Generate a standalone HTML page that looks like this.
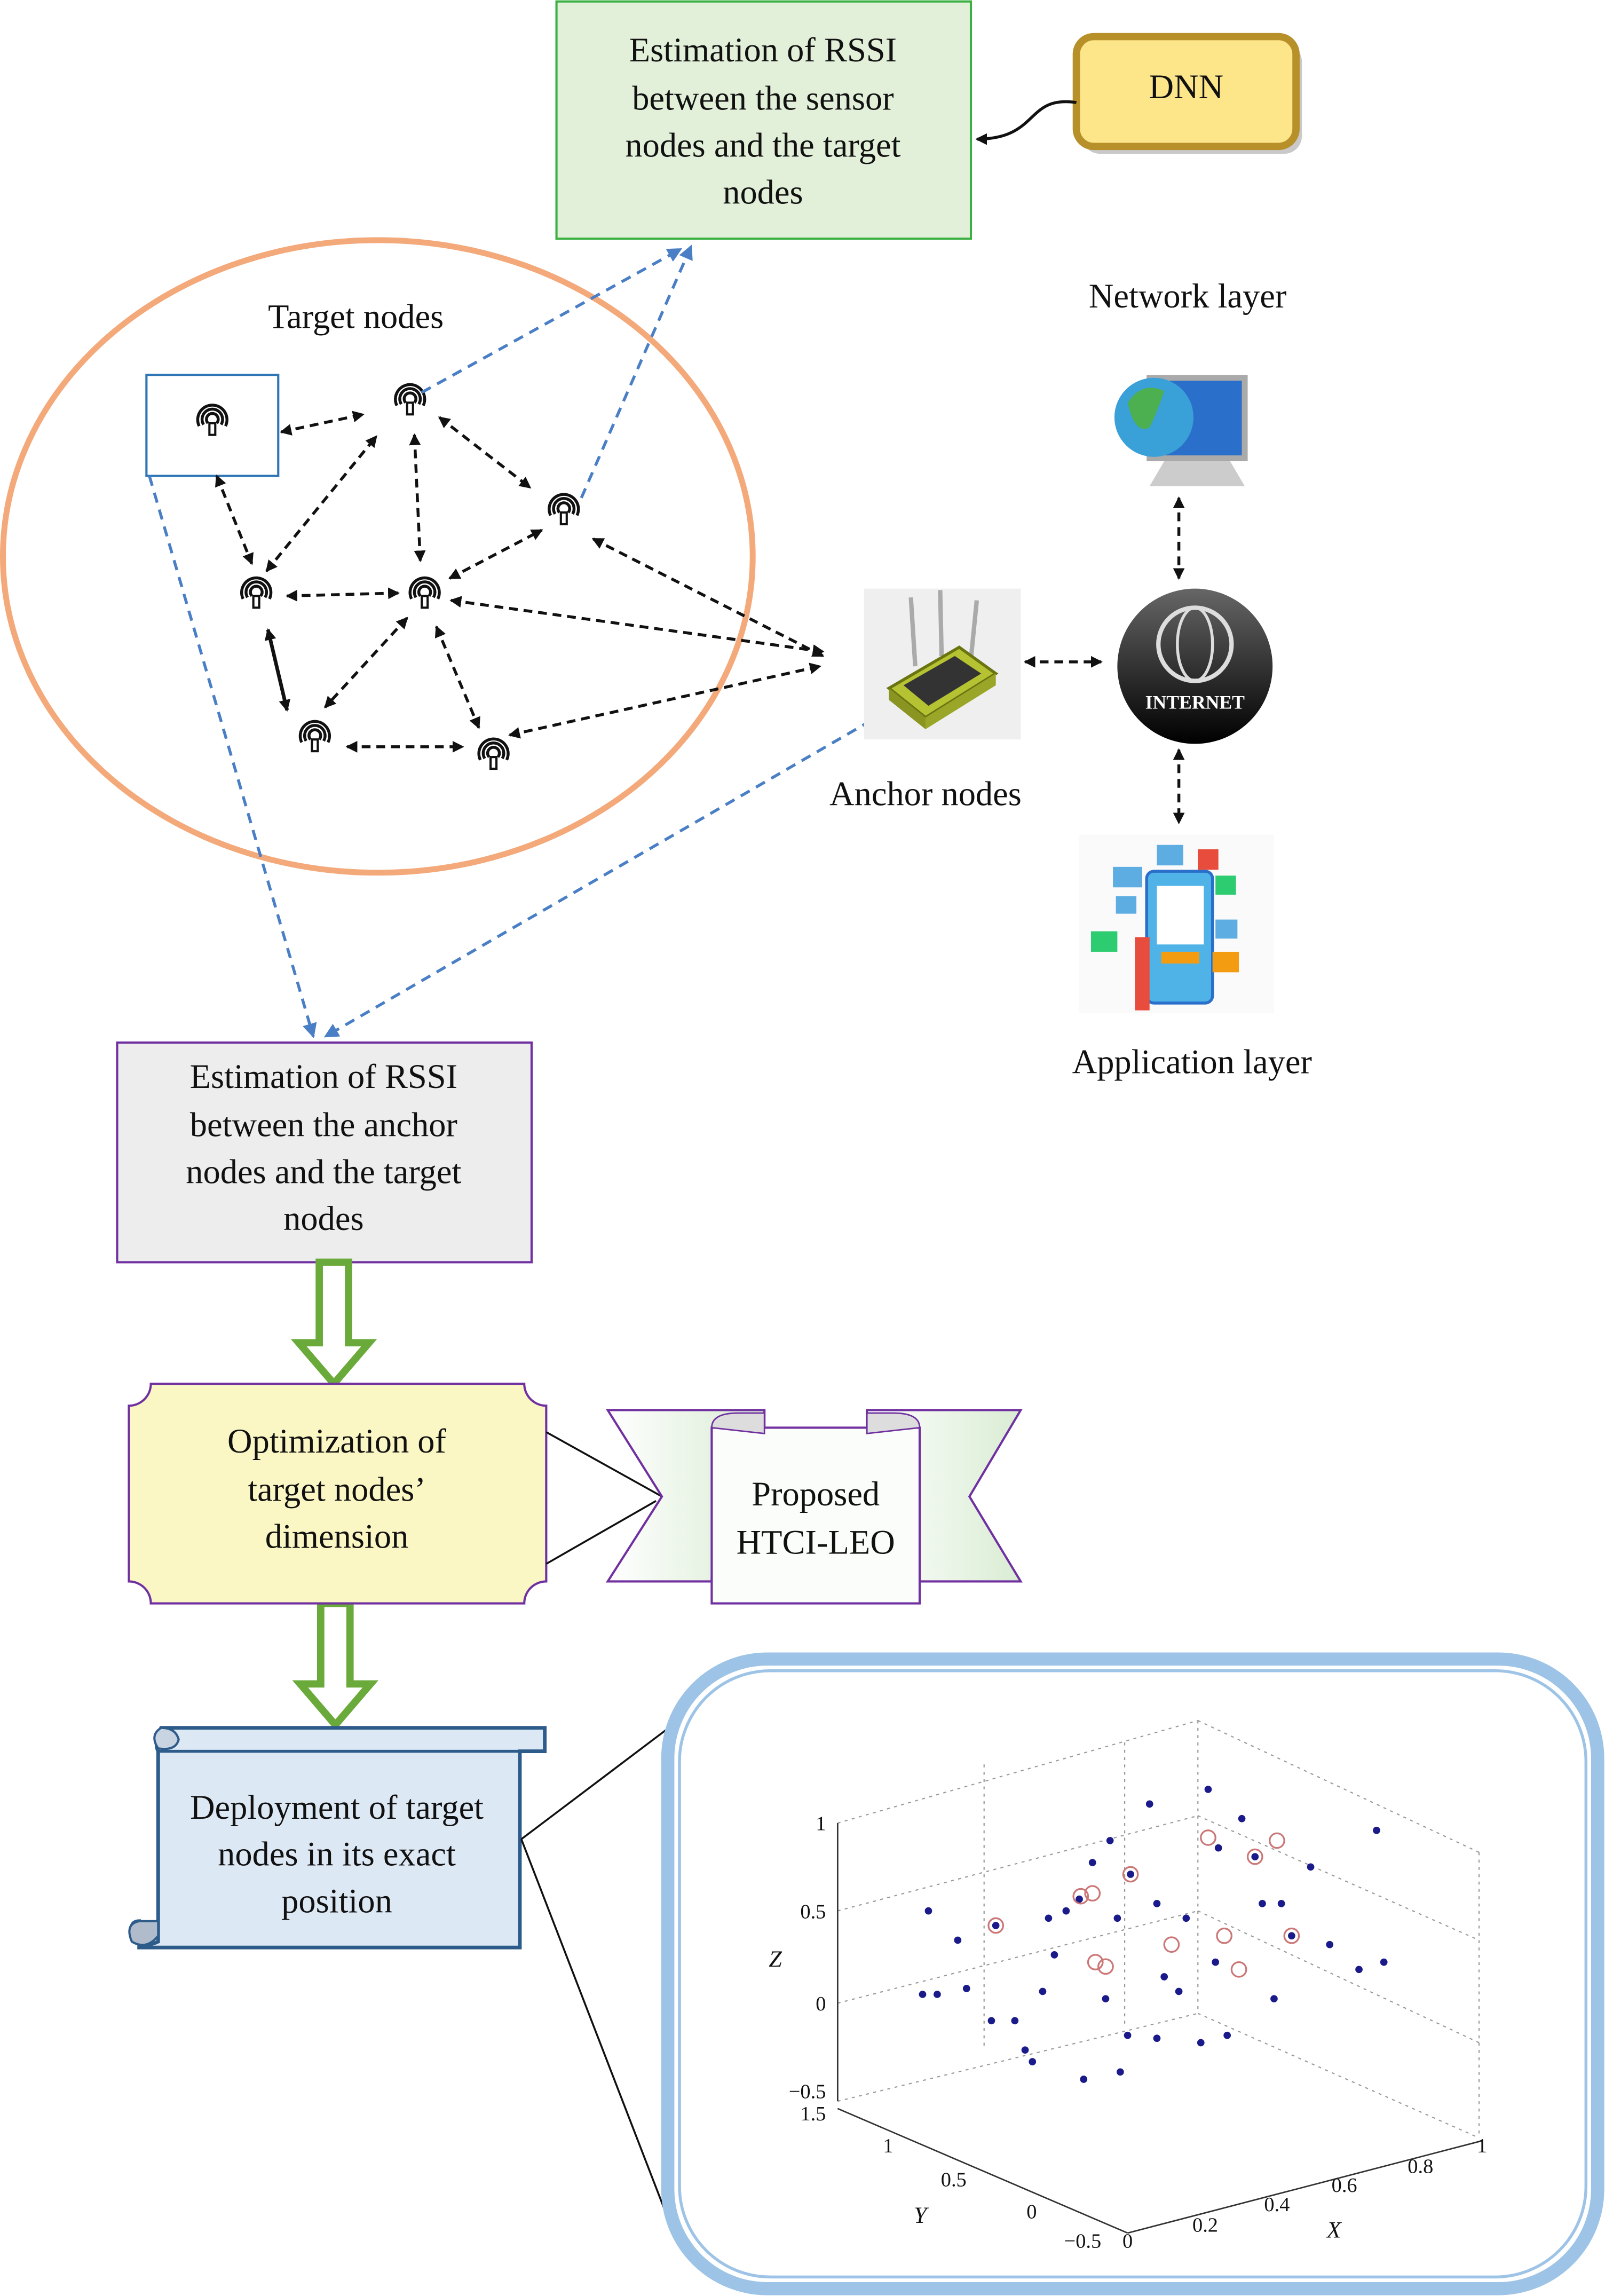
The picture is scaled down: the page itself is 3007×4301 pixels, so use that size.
<!DOCTYPE html>
<html><head><meta charset="utf-8">
<style>
html,body{margin:0;padding:0;background:#fff;}
svg{display:block;}
text{font-family:"Liberation Serif",serif;fill:#111;}
</style></head>
<body>
<svg width="3007" height="4301" viewBox="0 0 1096 1568" preserveAspectRatio="none" xmlns="http://www.w3.org/2000/svg">
<defs>
<marker id="ab" markerWidth="8" markerHeight="8" refX="7" refY="4" orient="auto-start-reverse" markerUnits="userSpaceOnUse"><path d="M0,0 L8,4 L0,8 z" fill="#111"/></marker>
<marker id="abl" markerWidth="10" markerHeight="10" refX="9" refY="5" orient="auto" markerUnits="userSpaceOnUse"><path d="M0,0 L10,5 L0,10 z" fill="#4a7fc6"/></marker>
<g id="node">
<path d="M-9,4 A10,10 0 1 1 9,4" fill="none" stroke="#111" stroke-width="2"/>
<path d="M-6,3 A7,7 0 1 1 6,3" fill="none" stroke="#111" stroke-width="2"/>
<path d="M-3,2 A4,4 0 1 1 3,2" fill="none" stroke="#111" stroke-width="2"/>
<rect x="-2" y="2" width="4" height="8" fill="#fff" stroke="#111" stroke-width="1.5"/>
</g>
<linearGradient id="sph" x1="0" y1="0" x2="0" y2="1"><stop offset="0" stop-color="#666"/><stop offset="1" stop-color="#000"/></linearGradient>
<linearGradient id="ban" x1="0" y1="0" x2="1" y2="0"><stop offset="0" stop-color="#fff"/><stop offset="1" stop-color="#d9ecd3"/></linearGradient>
</defs>

<rect x="380" y="1" width="283" height="162" fill="#e2f0d9" stroke="#3cb043" stroke-width="1.5"/>
<g font-size="23.5" text-anchor="middle">
<text x="521" y="42">Estimation of RSSI</text>
<text x="521" y="75">between the sensor</text>
<text x="521" y="107">nodes and the target</text>
<text x="521" y="139">nodes</text>
</g>
<rect x="739" y="30" width="150" height="75" rx="12" fill="#c9c9c9"/>
<rect x="735" y="25" width="150" height="75" rx="12" fill="#fde58a" stroke="#b8902a" stroke-width="5"/>
<text x="810" y="67" font-size="23.5" text-anchor="middle">DNN</text>
<path d="M735,70 C700,65 710,95 667,95" fill="none" stroke="#111" stroke-width="2" marker-end="url(#ab)"/>

<text x="811" y="210" font-size="23.5" text-anchor="middle">Network layer</text>

<ellipse cx="258" cy="380" rx="256" ry="216" fill="none" stroke="#f4a97a" stroke-width="4"/>
<text x="243" y="224" font-size="23.5" text-anchor="middle">Target nodes</text>
<rect x="100" y="256" width="90" height="69" fill="#fff" stroke="#2e75b6" stroke-width="1.5"/>

<use href="#node" x="145" y="287"/>
<use href="#node" x="280" y="273"/>
<use href="#node" x="385" y="348"/>
<use href="#node" x="175" y="405"/>
<use href="#node" x="290" y="405"/>
<use href="#node" x="215" y="503"/>
<use href="#node" x="337" y="515"/>

<g stroke="#111" stroke-width="2" stroke-dasharray="6,4" fill="none">
<line x1="192" y1="295" x2="248" y2="283" marker-start="url(#ab)" marker-end="url(#ab)"/>
<line x1="148" y1="325" x2="172" y2="385" marker-start="url(#ab)" marker-end="url(#ab)"/>
<line x1="182" y1="390" x2="257" y2="298" marker-start="url(#ab)" marker-end="url(#ab)"/>
<line x1="300" y1="285" x2="362" y2="333" marker-start="url(#ab)" marker-end="url(#ab)"/>
<line x1="283" y1="297" x2="287" y2="383" marker-start="url(#ab)" marker-end="url(#ab)"/>
<line x1="196" y1="407" x2="272" y2="405" marker-start="url(#ab)" marker-end="url(#ab)"/>
<line x1="307" y1="395" x2="370" y2="362" marker-start="url(#ab)" marker-end="url(#ab)"/>
<line x1="278" y1="422" x2="222" y2="483" marker-start="url(#ab)" marker-end="url(#ab)"/>
<line x1="298" y1="428" x2="327" y2="497" marker-start="url(#ab)" marker-end="url(#ab)"/>
<line x1="237" y1="510" x2="316" y2="510" marker-start="url(#ab)" marker-end="url(#ab)"/>
<line x1="308" y1="410" x2="562" y2="445" marker-start="url(#ab)" marker-end="url(#ab)"/>
<line x1="405" y1="368" x2="562" y2="448" marker-start="url(#ab)" marker-end="url(#ab)"/>
<line x1="348" y1="502" x2="560" y2="455" marker-start="url(#ab)" marker-end="url(#ab)"/>
<line x1="700" y1="452" x2="752" y2="452" marker-start="url(#ab)" marker-end="url(#ab)"/>
<line x1="805" y1="340" x2="805" y2="395" marker-start="url(#ab)" marker-end="url(#ab)"/>
<line x1="805" y1="512" x2="805" y2="562" marker-start="url(#ab)" marker-end="url(#ab)"/>
</g>
<line x1="183" y1="430" x2="196" y2="485" stroke="#111" stroke-width="2.5" marker-start="url(#ab)" marker-end="url(#ab)"/>

<g stroke="#4a7fc6" stroke-width="2" stroke-dasharray="7,5" fill="none">
<line x1="288" y1="268" x2="465" y2="170" marker-end="url(#abl)"/>
<line x1="397" y1="340" x2="472" y2="168" marker-end="url(#abl)"/>
<line x1="102" y1="325" x2="214" y2="708" marker-end="url(#abl)"/>
<line x1="595" y1="492" x2="222" y2="708" marker-end="url(#abl)"/>
</g>

<rect x="590" y="402" width="107" height="103" fill="#efefef"/>
<line x1="622" y1="408" x2="625" y2="455" stroke="#aaa" stroke-width="3"/>
<line x1="642" y1="403" x2="643" y2="448" stroke="#aaa" stroke-width="3"/>
<line x1="667" y1="410" x2="663" y2="450" stroke="#aaa" stroke-width="3"/>
<polygon points="607,470 655,442 680,460 632,490" fill="#b5c232" stroke="#6a7410" stroke-width="2"/>
<polygon points="617,468 652,448 670,460 634,482" fill="#333"/>
<polygon points="607,470 632,490 632,498 607,478" fill="#8a9420"/>
<polygon points="632,490 680,460 680,468 632,498" fill="#9aa628"/>
<text x="632" y="550" font-size="23.5" text-anchor="middle">Anchor nodes</text>

<rect x="785" y="258" width="65" height="55" fill="#2a6fc9" stroke="#aaa" stroke-width="4"/>
<circle cx="788" cy="285" r="27" fill="#3aa0d8"/>
<path d="M770,275 q10,-15 25,-8 q-5,15 -10,25 q-10,5 -15,-17z" fill="#4caf50"/>
<polygon points="795,315 840,315 850,332 785,332" fill="#ccc"/>

<circle cx="816" cy="455" r="53" fill="url(#sph)"/>
<circle cx="816" cy="440" r="25" fill="none" stroke="#ddd" stroke-width="3"/>
<ellipse cx="816" cy="440" rx="12" ry="25" fill="none" stroke="#ddd" stroke-width="2"/>
<text x="816" y="484" font-size="13" font-family="Liberation Sans,sans-serif" font-weight="bold" text-anchor="middle" style="fill:#fff">INTERNET</text>

<rect x="737" y="570" width="133" height="122" fill="#fafafa"/>
<rect x="783" y="595" width="45" height="90" rx="5" fill="#4fb3e8" stroke="#2a6fc9" stroke-width="2"/>
<rect x="790" y="605" width="32" height="40" fill="#fff"/>
<rect x="793" y="650" width="26" height="8" fill="#f39c12"/>
<rect x="760" y="592" width="20" height="14" fill="#5dade2"/>
<rect x="790" y="577" width="18" height="14" fill="#5dade2"/>
<rect x="818" y="580" width="14" height="14" fill="#e74c3c"/>
<rect x="830" y="598" width="14" height="13" fill="#2ecc71"/>
<rect x="830" y="628" width="15" height="13" fill="#5dade2"/>
<rect x="828" y="650" width="18" height="14" fill="#f39c12"/>
<rect x="745" y="636" width="18" height="14" fill="#2ecc71"/>
<rect x="762" y="612" width="14" height="12" fill="#5dade2"/>
<rect x="775" y="640" width="10" height="50" fill="#e74c3c"/>
<text x="814" y="733" font-size="23.5" text-anchor="middle">Application layer</text>

<rect x="80" y="712" width="283" height="150" fill="#ededed" stroke="#7030a0" stroke-width="1.5"/>
<g font-size="23.5" text-anchor="middle">
<text x="221" y="743">Estimation of RSSI</text>
<text x="221" y="776">between the anchor</text>
<text x="221" y="808">nodes and the target</text>
<text x="221" y="840">nodes</text>
</g>

<path d="M218,862 h20 v55 h14 l-24,28 l-24,-28 h14 z" fill="#fff" stroke="#6aaa3a" stroke-width="5"/>
<path d="M219,1095 h20 v55 h14 l-24,28 l-24,-28 h14 z" fill="#fff" stroke="#6aaa3a" stroke-width="5"/>

<path d="M103,945 H358 A15,15 0 0 0 373,960 V1080 A15,15 0 0 0 358,1095 H103 A15,15 0 0 0 88,1080 V960 A15,15 0 0 0 103,945 z" fill="#fbf7c4" stroke="#7030a0" stroke-width="1.5"/>
<g font-size="23.5" text-anchor="middle">
<text x="230" y="992">Optimization of</text>
<text x="230" y="1025">target nodes’</text>
<text x="230" y="1057">dimension</text>
</g>
<line x1="373" y1="978" x2="452" y2="1022" stroke="#111" stroke-width="1.3"/>
<line x1="373" y1="1068" x2="448" y2="1025" stroke="#111" stroke-width="1.3"/>

<polygon points="415,963 522,963 522,1078 486,1078 486,1080 415,1080 452,1022" fill="url(#ban)" stroke="#7030a0" stroke-width="1.5"/>
<polygon points="697,963 592,963 592,1080 697,1080 662,1022" fill="url(#ban)" stroke="#7030a0" stroke-width="1.5"/>
<rect x="486" y="975" width="142" height="120" fill="#fafdf9" stroke="#7030a0" stroke-width="1.5"/>
<path d="M486,975 q0,-10 18,-10 h18 v14 z" fill="#ddd" stroke="#7030a0" stroke-width="1"/>
<path d="M628,975 q0,-10 -18,-10 h-18 v14 z" fill="#ddd" stroke="#7030a0" stroke-width="1"/>
<g font-size="23.5" text-anchor="middle">
<text x="557" y="1028">Proposed</text>
<text x="557" y="1061">HTCI-LEO</text>
</g>

<path d="M110,1180 H372 V1196 H355 V1330 H95 V1312 Q88,1312 90,1322 Q95,1332 108,1326 V1196 Q105,1190 110,1180 z" fill="#dde8f5" stroke="#2e5c8a" stroke-width="2.5"/>
<path d="M110,1180 q-8,5 -2,14 q12,2 14,-6 q-2,-8 -12,-8z" fill="#c8d4e2" stroke="#2e5c8a" stroke-width="1.5"/>
<path d="M95,1312 q-10,2 -5,14 q10,6 18,-4 v-10z" fill="#b0bccb" stroke="#2e5c8a" stroke-width="1.5"/>
<line x1="108" y1="1196" x2="372" y2="1196" stroke="#2e5c8a" stroke-width="2"/>
<g font-size="23.5" text-anchor="middle">
<text x="230" y="1242">Deployment of target</text>
<text x="230" y="1274">nodes in its exact</text>
<text x="230" y="1306">position</text>
</g>
<line x1="356" y1="1256" x2="462" y2="1176" stroke="#111" stroke-width="1.3"/>
<line x1="356" y1="1256" x2="460" y2="1525" stroke="#111" stroke-width="1.3"/>

<rect x="456" y="1133" width="635" height="430" rx="68" fill="#fff" stroke="#9dc3e6" stroke-width="9"/>
<rect x="464" y="1141" width="619" height="414" rx="62" fill="none" stroke="#9dc3e6" stroke-width="2"/>

<g stroke="#999" stroke-width="0.8" stroke-dasharray="2,3" fill="none">
<line x1="572" y1="1245" x2="572" y2="1435"/>
<line x1="672" y1="1205" x2="672" y2="1400"/>
<line x1="768" y1="1190" x2="768" y2="1385"/>
<line x1="818" y1="1175" x2="818" y2="1375"/>
<line x1="1010" y1="1265" x2="1010" y2="1460"/>
<line x1="572" y1="1245" x2="818" y2="1175"/>
<line x1="818" y1="1175" x2="1010" y2="1265"/>
<line x1="572" y1="1305" x2="818" y2="1240"/>
<line x1="818" y1="1240" x2="1010" y2="1325"/>
<line x1="572" y1="1368" x2="818" y2="1305"/>
<line x1="818" y1="1305" x2="1010" y2="1395"/>
<line x1="572" y1="1435" x2="818" y2="1375"/>
<line x1="818" y1="1375" x2="1010" y2="1460"/>
</g>
<g stroke="#333" stroke-width="1" fill="none">
<line x1="572" y1="1245" x2="572" y2="1435"/>
<line x1="572" y1="1440" x2="770" y2="1525"/>
<line x1="770" y1="1525" x2="1012" y2="1462"/>
</g>
<g font-size="14" text-anchor="end">
<text x="564" y="1250">1</text><text x="564" y="1310">0.5</text><text x="564" y="1373">0</text>
<text x="564" y="1433">−0.5</text><text x="564" y="1448">1.5</text>
<text x="610" y="1470">1</text><text x="660" y="1493">0.5</text><text x="708" y="1515">0</text><text x="752" y="1535">−0.5</text>
</g>
<g font-size="14" text-anchor="middle">
<text x="770" y="1535">0</text><text x="823" y="1524">0.2</text><text x="872" y="1510">0.4</text><text x="918" y="1497">0.6</text><text x="970" y="1484">0.8</text><text x="1012" y="1470">1</text>
</g>
<text x="525" y="1343" font-size="16" font-style="italic">Z</text>
<text x="624" y="1518" font-size="16" font-style="italic">Y</text>
<text x="906" y="1528" font-size="16" font-style="italic">X</text>

<g fill="#1a1a8a">
<circle cx="634" cy="1305" r="2.5"/><circle cx="680" cy="1315" r="2.5"/><circle cx="654" cy="1325" r="2.5"/><circle cx="630" cy="1362" r="2.5"/><circle cx="640" cy="1362" r="2.5"/><circle cx="660" cy="1358" r="2.5"/><circle cx="677" cy="1380" r="2.5"/><circle cx="693" cy="1380" r="2.5"/><circle cx="700" cy="1400" r="2.5"/><circle cx="705" cy="1408" r="2.5"/><circle cx="716" cy="1310" r="2.5"/><circle cx="720" cy="1335" r="2.5"/><circle cx="728" cy="1305" r="2.5"/><circle cx="737" cy="1297" r="2.5"/><circle cx="746" cy="1272" r="2.5"/><circle cx="758" cy="1257" r="2.5"/><circle cx="772" cy="1280" r="2.5"/><circle cx="785" cy="1232" r="2.5"/><circle cx="790" cy="1300" r="2.5"/><circle cx="795" cy="1350" r="2.5"/><circle cx="805" cy="1360" r="2.5"/><circle cx="825" cy="1222" r="2.5"/><circle cx="832" cy="1262" r="2.5"/><circle cx="848" cy="1242" r="2.5"/><circle cx="857" cy="1268" r="2.5"/><circle cx="862" cy="1300" r="2.5"/><circle cx="882" cy="1322" r="2.5"/><circle cx="895" cy="1275" r="2.5"/><circle cx="908" cy="1328" r="2.5"/><circle cx="940" cy="1250" r="2.5"/><circle cx="945" cy="1340" r="2.5"/><circle cx="928" cy="1345" r="2.5"/><circle cx="740" cy="1420" r="2.5"/><circle cx="765" cy="1415" r="2.5"/><circle cx="770" cy="1390" r="2.5"/><circle cx="790" cy="1392" r="2.5"/><circle cx="820" cy="1395" r="2.5"/><circle cx="838" cy="1390" r="2.5"/><circle cx="870" cy="1365" r="2.5"/><circle cx="875" cy="1300" r="2.5"/><circle cx="755" cy="1365" r="2.5"/><circle cx="712" cy="1360" r="2.5"/><circle cx="810" cy="1310" r="2.5"/><circle cx="830" cy="1340" r="2.5"/><circle cx="763" cy="1310" r="2.5"/>
</g>
<g fill="none" stroke="#c77" stroke-width="1.2">
<circle cx="680" cy="1315" r="5"/><circle cx="746" cy="1293" r="5"/><circle cx="772" cy="1280" r="5"/><circle cx="825" cy="1255" r="5"/><circle cx="857" cy="1268" r="5"/><circle cx="872" cy="1257" r="5"/><circle cx="800" cy="1328" r="5"/><circle cx="836" cy="1322" r="5"/><circle cx="846" cy="1345" r="5"/><circle cx="882" cy="1322" r="5"/><circle cx="748" cy="1340" r="5"/><circle cx="755" cy="1343" r="5"/><circle cx="738" cy="1295" r="5"/>
</g>
</svg>
</body></html>
